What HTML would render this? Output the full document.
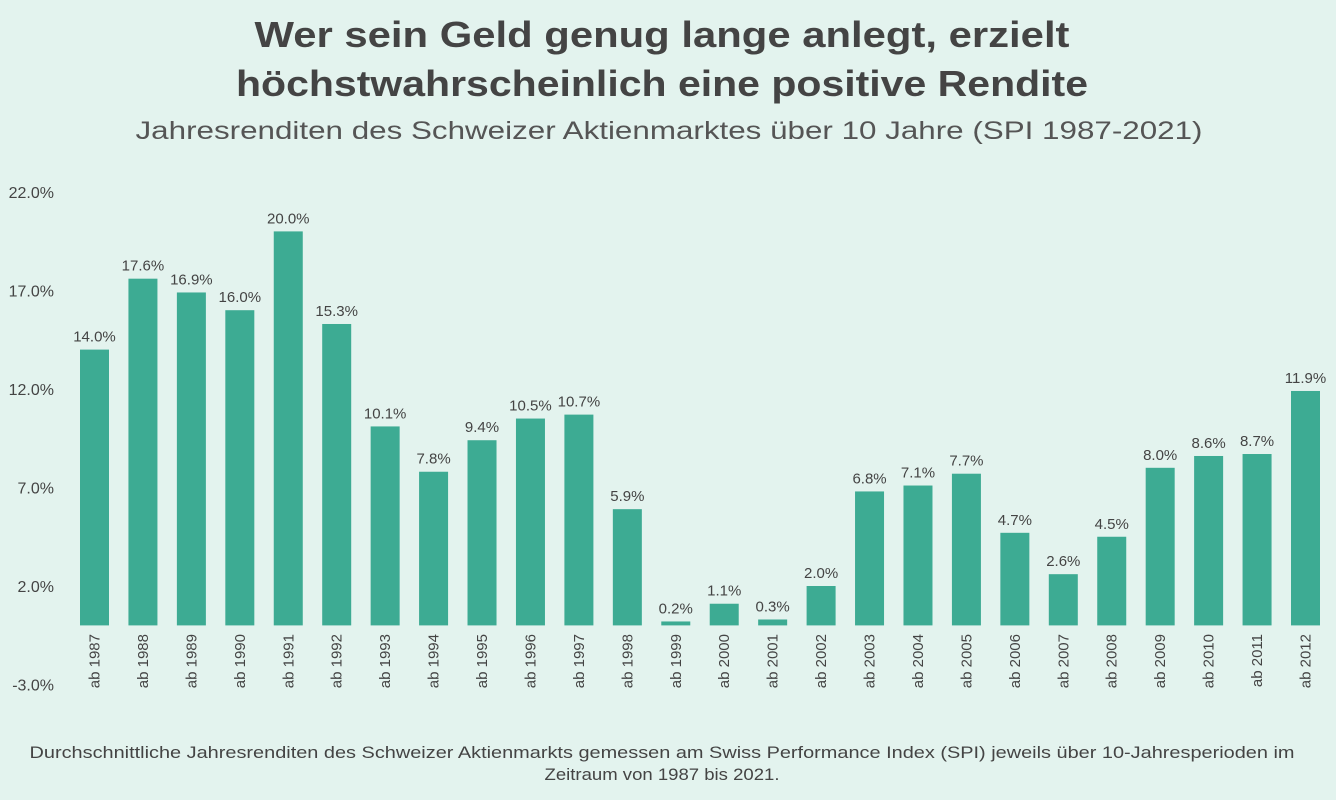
<!DOCTYPE html>
<html><head><meta charset="utf-8"><style>
body{margin:0;width:1336px;height:795px;background:#e3f3ee;font-family:"Liberation Sans",sans-serif;color:#444;overflow:hidden}
</style></head><body>
<svg width="1336" height="795">
<text x="662" y="47" text-anchor="middle" font-size="36" font-weight="bold" fill="#444" textLength="815" lengthAdjust="spacingAndGlyphs">Wer sein Geld genug lange anlegt, erzielt</text>
<text x="662" y="96" text-anchor="middle" font-size="36" font-weight="bold" fill="#444" textLength="852" lengthAdjust="spacingAndGlyphs">höchstwahrscheinlich eine positive Rendite</text>
<text x="669" y="139" text-anchor="middle" font-size="25" fill="#555" textLength="1067" lengthAdjust="spacingAndGlyphs">Jahresrenditen des Schweizer Aktienmarktes über 10 Jahre (SPI 1987-2021)</text>
<g id="axis"></g>
<g id="bars"></g>
<text x="662" y="758" text-anchor="middle" font-size="17" fill="#444" textLength="1265" lengthAdjust="spacingAndGlyphs">Durchschnittliche Jahresrenditen des Schweizer Aktienmarkts gemessen am Swiss Performance Index (SPI) jeweils über 10-Jahresperioden im</text>
<text x="662" y="780" text-anchor="middle" font-size="17" fill="#444" textLength="235" lengthAdjust="spacingAndGlyphs">Zeitraum von 1987 bis 2021.</text>
</svg>
<script>
const categories=["ab 1987","ab 1988","ab 1989","ab 1990","ab 1991","ab 1992","ab 1993","ab 1994","ab 1995","ab 1996","ab 1997","ab 1998","ab 1999","ab 2000","ab 2001","ab 2002","ab 2003","ab 2004","ab 2005","ab 2006","ab 2007","ab 2008","ab 2009","ab 2010","ab 2011","ab 2012"];
const values=[14.0,17.6,16.9,16.0,20.0,15.3,10.1,7.8,9.4,10.5,10.7,5.9,0.2,1.1,0.3,2.0,6.8,7.1,7.7,4.7,2.6,4.5,8.0,8.6,8.7,11.9];
const ticks=[22,17,12,7,2,-3];
const NS="http://www.w3.org/2000/svg";
const y=v=>625.4-v*19.7;
const x=i=>94.5+i*48.44;
const ax=document.getElementById('axis'),bg=document.getElementById('bars');
function mk(t,a,p){const e=document.createElementNS(NS,t);for(const k in a)e.setAttribute(k,a[k]);p.appendChild(e);return e;}
ticks.forEach(t=>{const e=mk('text',{x:54,y:y(t)+6,'text-anchor':'end','font-size':16,fill:'#444'},ax);e.textContent=t.toFixed(1)+'%';

});
values.forEach((v,i)=>{
const r=mk('rect',{x:x(i)-14.5,y:y(v),width:29,height:625.4-y(v),fill:'#3dab93'},bg);


const l=mk('text',{x:x(i),y:y(v)-8,'text-anchor':'middle','font-size':15,fill:'#444'},bg);l.textContent=v.toFixed(1)+'%';


const c=mk('text',{x:0,y:0,'text-anchor':'end','font-size':15,fill:'#444',transform:`translate(${x(i)+5},634) rotate(-90)`},bg);c.textContent=categories[i];


});
</script>
</body></html>
